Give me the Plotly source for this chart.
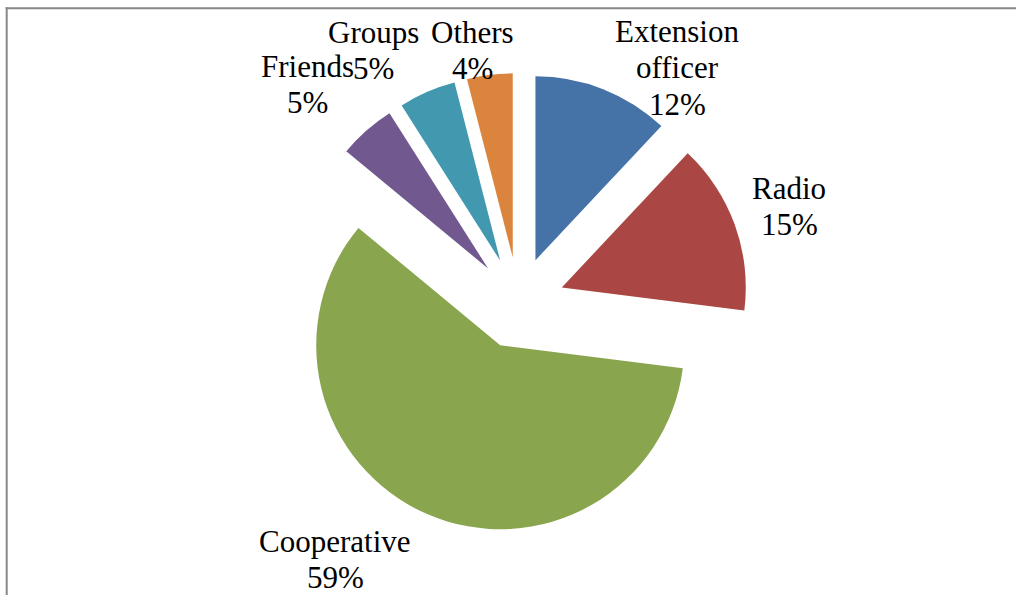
import plotly.graph_objects as go

# Sources of information, share of respondents (%)
sources = ["Extension officer", "Radio", "Cooperative", "Friends", "Groups", "Others"]
shares = [12, 15, 59, 5, 5, 4]
colors = ["#4572A7", "#AA4643", "#89A54E", "#71588F", "#4198AF", "#DB843D"]

W, H = 1016, 595
FONT = "Liberation Serif, Times New Roman, serif"
FS = 31
GAP = 36.5

# label layout: (lines, centre x px, first baseline y px)
label_lines = {
    "Extension officer": ["Extension", "officer"],
}
label_pos = {
    "Extension officer": (677, 42),
    "Radio": (789, 199),
    "Cooperative": (335, 552),
    "Friends": (307, 77),
    "Groups": (373, 43),
    "Others": (472, 43),
}

fig = go.Figure(go.Pie(
    labels=sources,
    values=shares,
    sort=False,
    direction="clockwise",
    rotation=0,
    pull=[0.25] * len(shares),
    marker=dict(colors=colors, line=dict(width=0)),
    textinfo="none",
    hoverinfo="label+percent",
    domain=dict(x=[288.5 / W, 748.5 / W], y=[(H - 533) / H, (H - 73) / H]),
    showlegend=False,
))

annotations = []
for name, val in zip(sources, shares):
    lines = label_lines.get(name, [name]) + [f"{val}%"]
    cx, base = label_pos[name]
    for i, line in enumerate(lines):
        y_mid = base + i * GAP - 0.34 * FS
        annotations.append(dict(
            text=line, x=cx / W, y=1 - y_mid / H,
            xref="paper", yref="paper", xanchor="center", yanchor="middle",
            showarrow=False, font=dict(family=FONT, size=FS, color="#000000"),
        ))

# chart frame (left and top edges visible)
shapes = [
    dict(type="line", xref="paper", yref="paper", x0=6.7 / W, x1=6.7 / W,
         y0=-0.02, y1=1 - 7.3 / H, line=dict(color="#888888", width=2)),
    dict(type="line", xref="paper", yref="paper", x0=5.7 / W, x1=1.02,
         y0=1 - 8.3 / H, y1=1 - 8.3 / H, line=dict(color="#888888", width=2)),
]

fig.update_layout(
    width=W, height=H, autosize=False,
    margin=dict(l=0, r=0, t=0, b=0),
    paper_bgcolor="white", plot_bgcolor="white",
    annotations=annotations, shapes=shapes,
)

fig.write_html("out.html")
